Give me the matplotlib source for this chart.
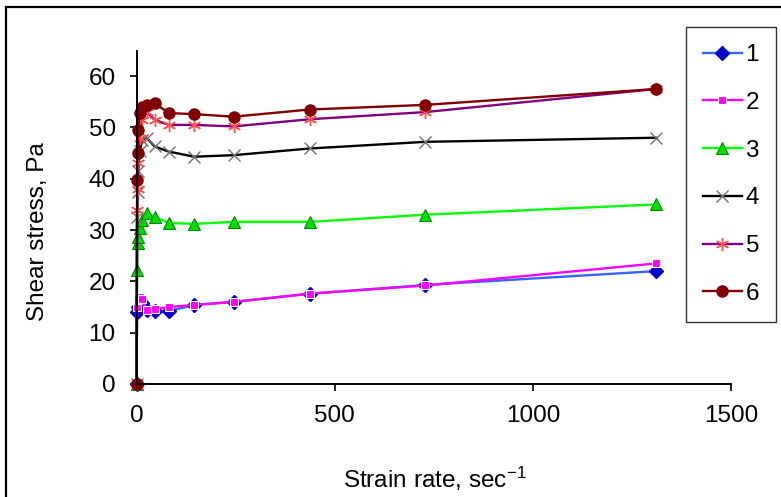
import matplotlib
matplotlib.use("Agg")
import matplotlib.pyplot as plt
from matplotlib.patches import Rectangle

plt.rcParams['font.family'] = ['Liberation Sans', 'DejaVu Sans']
plt.rcParams['mathtext.fontset'] = 'custom'
plt.rcParams['mathtext.rm'] = 'Liberation Sans'
plt.rcParams['mathtext.it'] = 'Liberation Sans'
plt.rcParams['mathtext.default'] = 'regular'

strain_rate = [0, 1.5, 2.7, 4.6, 8.1, 14.4, 25.6, 45.6, 81, 146, 245, 437, 729, 1311]
s1 = [0, 14.0, 14.2, 15.0, 15.5, 15.8, 14.5, 14.2, 14.2, 15.4, 16.0, 17.6, 19.3, 22.0]
s2 = [0, 15.0, 16.4, 16.8, 17.0, 16.5, 14.5, 14.6, 15.0, 15.4, 16.0, 17.6, 19.2, 23.5]
s3 = [0, 22.2, 27.4, 28.7, 30.5, 32.0, 33.3, 32.6, 31.4, 31.2, 31.6, 31.6, 33.0, 35.0]
s4 = [0, 32.6, 37.5, 41.5, 45.5, 47.5, 48.0, 46.3, 45.3, 44.3, 44.6, 45.9, 47.2, 48.0]
s5 = [0, 34.0, 38.0, 43.0, 48.0, 51.5, 53.0, 51.5, 50.5, 50.5, 50.2, 51.6, 53.0, 57.5]
s6 = [0, 39.8, 45.0, 49.5, 52.8, 54.0, 54.3, 54.8, 52.8, 52.6, 52.1, 53.5, 54.4, 57.5]
labels = ['1', '2', '3', '4', '5', '6']
xticks = [0, 500, 1000, 1500]
yticks = [0, 10, 20, 30, 40, 50, 60]

W, H = 781, 497
FS = 17.5
fig = plt.figure(figsize=(W / 100, H / 100), dpi=100)
ax = fig.add_axes([136.5 / W, 1 - 384 / H, (731 - 136.5) / W, (384 - 50.5) / H])

styles = [
    dict(color='#3366ff', marker='D', ms=7, mfc='#0000cc', mec='#0000cc'),
    dict(color='#ff00ff', marker='s', ms=5.5, mfc='#ff00ff', mec='white', mew=0.8),
    dict(color='#00ff00', marker='^', ms=9, mfc='#00dd00', mec='#008800', mew=0.8),
    dict(color='black', marker='x', ms=8.5, mfc='none', mec='#707070', mew=1.0),
    dict(color='#800080', marker=(6, 2, 0), ms=9.5, mec='#ff5050', mew=1.0),
    dict(color='#800000', marker='o', ms=8, mfc='#800000', mec='#800000'),
]
series = [s1, s2, s3, s4, s5, s6]
for ys, st, lab in zip(series, styles, labels):
    ax.plot(strain_rate, ys, lw=1.7, label=lab, clip_on=False, **st)

ax.set_xlim(0, 1500)
ax.set_ylim(0, 65)
ax.set_xticks(xticks)
ax.set_yticks(yticks)
ax.tick_params(labelsize=FS, length=5, width=1.2, direction='out', colors='black')
ax.tick_params(axis='x', pad=10)
ax.tick_params(axis='y', pad=10)
for sp in ['top', 'right']:
    ax.spines[sp].set_visible(False)
for sp in ['left', 'bottom']:
    ax.spines[sp].set_linewidth(1.4)

fig.text(38 / W, 1 - 232 / H, 'Shear stress, Pa', rotation=90, ha='center', va='center', fontsize=FS)
fig.text(435 / W, 1 - 488 / H, 'Strain rate, sec$^{-1}$', ha='center', va='baseline', fontsize=FS)

leg = fig.legend(loc='upper left', bbox_to_anchor=(686 / W, 1 - 27 / H), bbox_transform=fig.transFigure,
                 fontsize=FS, frameon=True, fancybox=False, shadow=False, borderaxespad=0,
                 labelspacing=1.06, handlelength=1.6, handletextpad=0.15, borderpad=0.7)
leg.get_frame().set_edgecolor('black')
leg.get_frame().set_linewidth(1.0)

fig.patches.append(Rectangle((6 / W, -0.1), 1.2, 1 - 7 / H + 0.1, transform=fig.transFigure,
                             fill=False, edgecolor='black', linewidth=1.6))

fig.savefig('out.png', dpi=100)
